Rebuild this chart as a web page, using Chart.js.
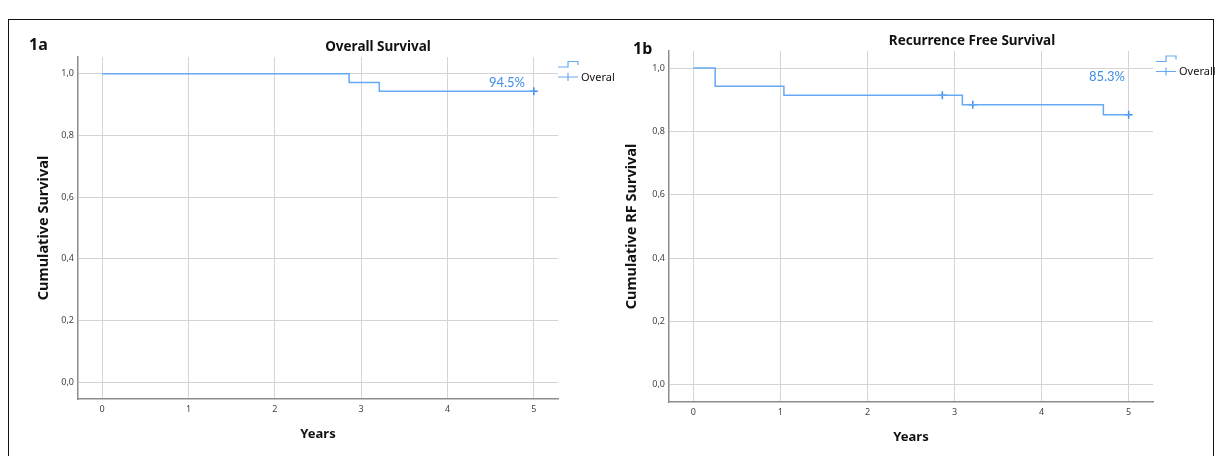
<!DOCTYPE html>
<html>
<head>
<meta charset="utf-8">
<script src="https://cdn.jsdelivr.net/npm/chart.js@4.4.1/dist/chart.umd.min.js"></script>
<style>
  html, body { margin: 0; padding: 0; background: #fff; }
  body { width: 1222px; height: 456px; position: relative; overflow: hidden; }
  canvas { position: absolute; top: 0; }
  #c1 { left: 0; }
  #c2 { left: 615px; }
  #frame { position: absolute; left: 8px; top: 19px; width: 1204px; height: 460px; border: 1px solid #111; pointer-events: none; }
</style>
</head>
<body>
<canvas id="c1" width="615" height="456"></canvas>
<canvas id="c2" width="607" height="456"></canvas>
<div id="frame"></div>
<script>
// tick values
const xTickValues = [0, 1, 2, 3, 4, 5];
const yTickValues = [0, 0.2, 0.4, 0.6, 0.8, 1.0];
const yTickLabels = ['0,0', '0,2', '0,4', '0,6', '0,8', '1,0'];

// Overall survival (1a)
const osTimes = [0, 2.86, 3.21, 5];
const osSurvival = [1, 0.971, 0.943, 0.943];
const osCensorTimes = [5];
const osCensorSurvival = [0.943];
const osLabel = '94.5%';

// Recurrence free survival (1b)
const rfsTimes = [0, 0.25, 1.04, 3.09, 4.71, 5];
const rfsSurvival = [1, 0.943, 0.914, 0.884, 0.853, 0.853];
const rfsCensorTimes = [2.86, 3.21, 5];
const rfsCensorSurvival = [0.914, 0.884, 0.853];
const rfsLabel = '85.3%';

const lineColor = '#66a9f3';
const markColor = '#3f8de8';
const gridColor = '#d4d4d4';
const axisColor = '#8c8c8c';
const font = '"Noto Sans", "DejaVu Sans", sans-serif';

const toPoints = (xs, ys) => xs.map((x, i) => ({ x: x, y: ys[i] }));

// titles, legend and percentage drawn on top of the chart
const annotate = {
  id: 'annotate',
  afterDraw(chart, args, o) {
    const ctx = chart.ctx;
    ctx.save();
    ctx.textBaseline = 'middle';

    ctx.fillStyle = '#111';
    ctx.textAlign = 'center';
    ctx.font = 'bold 13.5px ' + font;
    ctx.fillText(o.title, o.titleX, o.titleY);

    ctx.textAlign = 'left';
    ctx.font = 'bold 16px ' + font;
    ctx.fillText(o.tag, o.tagX, o.tagY);

    // percentage at the end of the curve
    ctx.textAlign = 'right';
    ctx.font = '13px Lato, ' + font;
    ctx.fillStyle = markColor;
    ctx.fillText(o.pct, o.pctX, o.pctY);

    // legend: step icon + censor icon
    const lx = o.legendX, ly = o.legendY;
    ctx.strokeStyle = lineColor;
    ctx.lineWidth = 1.2;
    ctx.beginPath();
    ctx.moveTo(lx, ly - 10);
    ctx.lineTo(lx + 10, ly - 10);
    ctx.lineTo(lx + 10, ly - 15.5);
    ctx.lineTo(lx + 20, ly - 15.5);
    ctx.lineTo(lx + 20, ly - 12);
    ctx.stroke();
    ctx.beginPath();
    ctx.moveTo(lx, ly);
    ctx.lineTo(lx + 20, ly);
    ctx.moveTo(lx + 10, ly - 4);
    ctx.lineTo(lx + 10, ly + 4);
    ctx.stroke();

    ctx.fillStyle = '#111';
    ctx.textAlign = 'left';
    ctx.font = '11px ' + font;
    ctx.fillText(o.legendText, lx + 23, ly + 0.5);
    ctx.restore();
  }
};

function makeChart(id, cfg) {
  return new Chart(document.getElementById(id), {
    type: 'line',
    data: {
      datasets: [{
        data: toPoints(cfg.times, cfg.surv),
        stepped: 'before',
        borderColor: lineColor,
        borderWidth: 1.5,
        pointRadius: 0,
        fill: false
      }, {
        data: toPoints(cfg.cTimes, cfg.cSurv),
        showLine: false,
        pointStyle: 'cross',
        pointRadius: 4,
        pointBorderWidth: 1.5,
        borderColor: markColor,
        backgroundColor: markColor
      }]
    },
    options: {
      responsive: false,
      devicePixelRatio: 1,
      animation: false,
      layout: { padding: { left: 0, top: cfg.top, right: cfg.right, bottom: 0 } },
      plugins: {
        legend: { display: false },
        tooltip: { enabled: false },
        title: { display: false },
        annotate: cfg.ann
      },
      scales: {
        x: {
          type: 'linear',
          min: -0.28,
          max: 5.28,
          afterBuildTicks: s => { s.ticks = xTickValues.map(v => ({ value: v })); },
          afterFit: s => { s.height = cfg.xH; },
          ticks: { color: '#444', font: { family: font, size: 9 }, padding: 5 },
          grid: { color: gridColor, lineWidth: 1, drawTicks: false },
          border: { display: true, color: axisColor, width: 1.5 },
          title: {
            display: true, text: 'Years', color: '#111',
            font: { family: font, size: 13, weight: 'bold' },
            padding: { top: 0, bottom: cfg.xTitlePad }
          }
        },
        y: {
          min: -0.054,
          max: 1.054,
          afterBuildTicks: s => { s.ticks = yTickValues.map(v => ({ value: v })); },
          afterFit: s => { s.width = cfg.yW; },
          ticks: {
            color: '#444', font: { family: font, size: 9 }, padding: 4,
            callback: (v, i) => yTickLabels[i]
          },
          grid: { color: gridColor, lineWidth: 1, drawTicks: false },
          border: { display: true, color: axisColor, width: 1.5 },
          title: {
            display: true, text: cfg.yTitle, color: '#111',
            font: { family: font, size: 14.5, weight: 'bold' },
            padding: { top: cfg.yTitlePad, bottom: 0 }
          }
        }
      }
    },
    plugins: [annotate]
  });
}

makeChart('c1', {
  times: osTimes, surv: osSurvival, cTimes: osCensorTimes, cSurv: osCensorSurvival,
  top: 57, right: 57, xH: 57, yW: 78, xTitlePad: 14, yTitlePad: 35.5,
  yTitle: 'Cumulative Survival',
  ann: {
    title: 'Overall Survival', titleX: 378, titleY: 47,
    tag: '1a', tagX: 29, tagY: 45,
    pct: osLabel, pctX: 525, pctY: 83,
    legendX: 558, legendY: 77, legendText: 'Overal'
  }
});

makeChart('c2', {
  times: rfsTimes, surv: rfsSurvival, cTimes: rfsCensorTimes, cSurv: rfsCensorSurvival,
  top: 51, right: 69, xH: 54, yW: 54, xTitlePad: 11, yTitlePad: 8.5,
  yTitle: 'Cumulative RF Survival',
  ann: {
    title: 'Recurrence Free Survival', titleX: 357, titleY: 41,
    tag: '1b', tagX: 18, tagY: 49,
    pct: rfsLabel, pctX: 510, pctY: 77,
    legendX: 541, legendY: 71.5, legendText: 'Overall'
  }
});
</script>
</body>
</html>
